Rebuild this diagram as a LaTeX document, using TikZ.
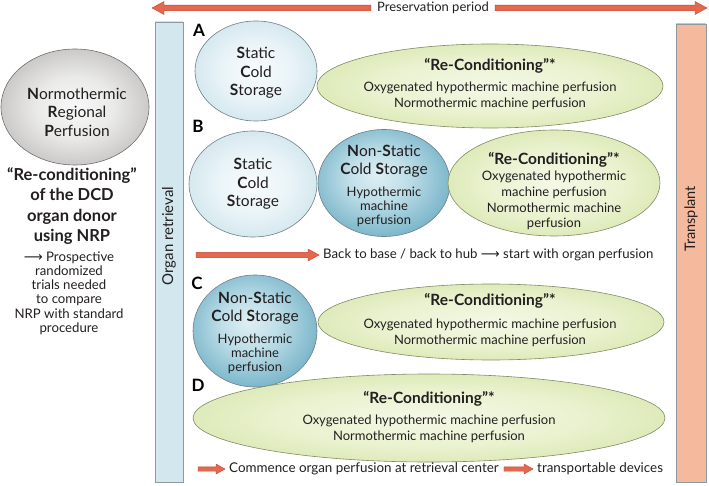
\documentclass[tikz,border=0pt]{standalone}
\usepackage{fontspec}
\setmainfont{Lato}
\newfontfamily\dejavu{DejaVu Sans}
\usetikzlibrary{shapes.geometric,calc}
\definecolor{txt}{HTML}{231F20}
\definecolor{scsLine}{HTML}{6F7F86}
\definecolor{grLine}{HTML}{7F8B66}
\definecolor{nrpLine}{HTML}{6E6E6E}
\definecolor{retrEdge}{HTML}{D3E7EF}
\definecolor{retrMid}{HTML}{F3F9FB}
\definecolor{barLine}{HTML}{8C9AA0}
\definecolor{trEdge}{HTML}{F5B99E}
\definecolor{trMid}{HTML}{FDF0EA}
\definecolor{arrDark}{HTML}{E5674D}
\definecolor{arrLight}{HTML}{F9D5C7}
\definecolor{arrLine}{HTML}{BF4A33}
\pgfdeclareradialshading{scsShade}{\pgfpoint{0bp}{0bp}}{%
  color(0bp)=(rgb,255:red,248;green,251;blue,252);
  color(14bp)=(rgb,255:red,234;green,244;blue,248);
  color(28bp)=(rgb,255:red,208;green,230;blue,237);
  color(35bp)=(rgb,255:red,186;green,217;blue,227);
  color(50bp)=(rgb,255:red,186;green,217;blue,227)}
\pgfdeclareradialshading{nscShade}{\pgfpoint{-3bp}{4bp}}{%
  color(0bp)=(rgb,255:red,222;green,239;blue,244);
  color(11bp)=(rgb,255:red,192;green,223;blue,233);
  color(24bp)=(rgb,255:red,136;green,190;blue,208);
  color(36bp)=(rgb,255:red,90;green,157;blue,181);
  color(50bp)=(rgb,255:red,90;green,157;blue,181)}
\pgfdeclareradialshading{grnShade}{\pgfpoint{0bp}{0bp}}{%
  color(0bp)=(rgb,255:red,244;green,248;blue,230);
  color(16bp)=(rgb,255:red,234;green,242;blue,208);
  color(28bp)=(rgb,255:red,218;green,232;blue,178);
  color(35bp)=(rgb,255:red,204;green,223;blue,156);
  color(50bp)=(rgb,255:red,204;green,223;blue,156)}
\pgfdeclareradialshading{nrpShade}{\pgfpoint{0bp}{0bp}}{%
  color(0bp)=(rgb,255:red,248;green,248;blue,248);
  color(13bp)=(rgb,255:red,234;green,234;blue,233);
  color(26bp)=(rgb,255:red,200;green,199;blue,197);
  color(35bp)=(rgb,255:red,166;green,165;blue,162);
  color(50bp)=(rgb,255:red,166;green,165;blue,162)}
\newcommand\fs[2]{\fontsize{#1}{#2}\selectfont}
\newcommand\larr{{\dejavu ⟶}}
% start, end, shaft half, head half, signed head length
\newcommand\fatarrow[5]{%
  \shade[fatarr] let \p1=#1, \p2=#2 in
    (\x1,\y1-#3) -- (\x2-#5,\y2-#3) -- (\x2-#5,\y2-#4) -- (\x2,\y2)
    -- (\x2-#5,\y2+#4) -- (\x2-#5,\y2+#3) -- (\x1,\y1+#3) -- cycle;}
\begin{document}
\begin{tikzpicture}[x=1pt,y=-1pt,
  every node/.style={text=txt, inner sep=0pt},
  fatarr/.style={draw=arrLine, line width=0.4pt, left color=arrDark, middle color=arrLight, right color=arrDark},
  scs/.style={ellipse, draw=scsLine, line width=0.6pt, shading=scsShade},
  nsc/.style={ellipse, draw=scsLine, line width=0.6pt, shading=nscShade},
  grn/.style={ellipse, draw=grLine, line width=0.6pt, shading=grnShade},
  nrp/.style={ellipse, draw=nrpLine, line width=0.6pt, shading=nrpShade},
  vbar/.style={draw=barLine, line width=0.6pt},
  lab/.style={font=\fs{17}{17}\bfseries, text=black},
  body/.style={align=center, font=\fs{13}{15.5}},
  big/.style={align=center, font=\fs{15.5}{18.5}},
]
\useasboundingbox (0,0) rectangle (709,486);

% ---- vertical bars
\node[vbar, top color=retrEdge, middle color=retrMid, bottom color=retrEdge,
      minimum width=28pt, minimum height=460pt] (retr) at (169,252) {};
\node[rotate=90, font=\fs{15}{16}] (retrlbl) at (169,236) {Organ retrieval};
\node[vbar, top color=trEdge, middle color=trMid, bottom color=trEdge,
      minimum width=30pt, minimum height=458pt] (trans) at (691,253) {};
\node[rotate=90, font=\fs{14.5}{16}] (translbl) at (691,219) {Transplant};

% ---- preservation period arrow
\node[font=\fs{13}{15}] (pres) at (433,8) {Preservation period};
\coordinate (presL) at (152,8);
\coordinate (presR) at (707,8);
\fatarrow{([xshift=-6pt]pres.west)}{(presL)}{2.8pt}{6.5pt}{-12pt}
\fatarrow{([xshift=6pt]pres.east)}{(presR)}{2.8pt}{6.5pt}{12pt}

% ---- left side: NRP
\node[nrp, minimum width=148pt, minimum height=116pt] (nrpE) at (75,107) {};
\node[align=center, font=\fs{15.5}{18.5}] (nrpT) at (77,112)
  {\textbf{N}ormothermic\\\textbf{R}egional\\\textbf{P}erfusion};
\node[align=center, font=\fs{16.5}{20.5}\bfseries] (recond) at (72,206)
  {“Re-conditioning”\\of the DCD\\organ donor\\using NRP};
\node[align=center, font=\fs{13.2}{14.2}] (prosp) at (69,293)
  {\larr\ Prospective\\randomized\\trials needed\\to compare\\NRP with standard\\procedure};

% ---- row A
\node[lab] (labA) at (199,30) {A};
\node[scs, minimum width=122pt, minimum height=100pt] (scsA) at (256,71) {};
\node[big] (scsAt) at (256,73)
  {\textbf{S}tatic\\\textbf{C}old\\\textbf{S}torage};
\node[grn, minimum width=346pt, minimum height=84pt] (rcA) at (490,86) {};
\node[body] (rcAt) at (490,84)
  {{\fs{15.5}{17}\bfseries “Re-Conditioning”*}\\[6pt]Oxygenated hypothermic machine perfusion\\Normothermic machine perfusion};

% ---- row B
\node[lab] (labB) at (198,126) {B};
\node[scs, minimum width=128pt, minimum height=106pt] (scsB) at (253,184) {};
\node[big] (scsBt) at (253,184)
  {\textbf{S}tatic\\\textbf{C}old\\\textbf{S}torage};
\node[nsc, minimum width=132pt, minimum height=107pt] (nscB) at (384,183) {};
\node[align=center, font=\fs{15.5}{18}] (nscBt) at (384,161)
  {\textbf{N}on-\textbf{S}tatic\\\textbf{C}old \textbf{S}torage};
\node[align=center, font=\fs{13}{14}] (nscBs) at (384,207)
  {Hypothermic\\machine\\perfusion};
\node[grn, minimum width=212pt, minimum height=106pt] (rcB) at (554,183) {};
\node[align=center, font=\fs{13}{15.7}] (rcBt) at (554,191)
  {{\fs{15.5}{17}\bfseries “Re-Conditioning”*}\\[1pt]Oxygenated hypothermic\\machine perfusion\\Normothermic machine\\perfusion};

\node[anchor=west, font=\fs{13.2}{15}] (backtxt) at (323,255)
  {Back to base / back to hub \larr\ start with organ perfusion};
\coordinate (backS) at (196,255);
\fatarrow{(backS)}{([xshift=-4pt]backtxt.west)}{2.6pt}{6pt}{11pt}

% ---- row C
\node[lab] (labC) at (197,283) {C};
\node[nsc, minimum width=124pt, minimum height=112pt] (nscC) at (255,331) {};
\node[align=center, font=\fs{15.5}{18}] (nscCt) at (255,308)
  {\textbf{N}on-\textbf{S}tatic\\\textbf{C}old \textbf{S}torage};
\node[align=center, font=\fs{13}{14}] (nscCs) at (255,354)
  {Hypothermic\\machine\\perfusion};
\node[grn, minimum width=346pt, minimum height=76pt] (rcC) at (491,322) {};
\node[body] (rcCt) at (490,320)
  {{\fs{15.5}{17}\bfseries “Re-Conditioning”*}\\[8pt]Oxygenated hypothermic machine perfusion\\Normothermic machine perfusion};

% ---- row D
\node[lab] (labD) at (198,385) {D};
\node[grn, minimum width=472pt, minimum height=88pt] (rcD) at (429,418) {};
\node[body] (rcDt) at (429,417)
  {{\fs{15.5}{17}\bfseries “Re-Conditioning”*}\\[6pt]Oxygenated hypothermic machine perfusion\\Normothermic machine perfusion};

% ---- bottom arrows
\node[anchor=west, font=\fs{13.4}{15}] (comm) at (229,469)
  {Commence organ perfusion at retrieval center};
\node[anchor=west, font=\fs{13.4}{15}] (portable) at (537,469) {transportable devices};
\coordinate (commS) at (198,469);
\fatarrow{(commS)}{([xshift=-4pt]comm.west)}{2.2pt}{5pt}{9pt}
\fatarrow{([xshift=5pt]comm.east)}{([xshift=-4pt]portable.west)}{2.2pt}{5pt}{9pt}
\end{tikzpicture}
\end{document}
